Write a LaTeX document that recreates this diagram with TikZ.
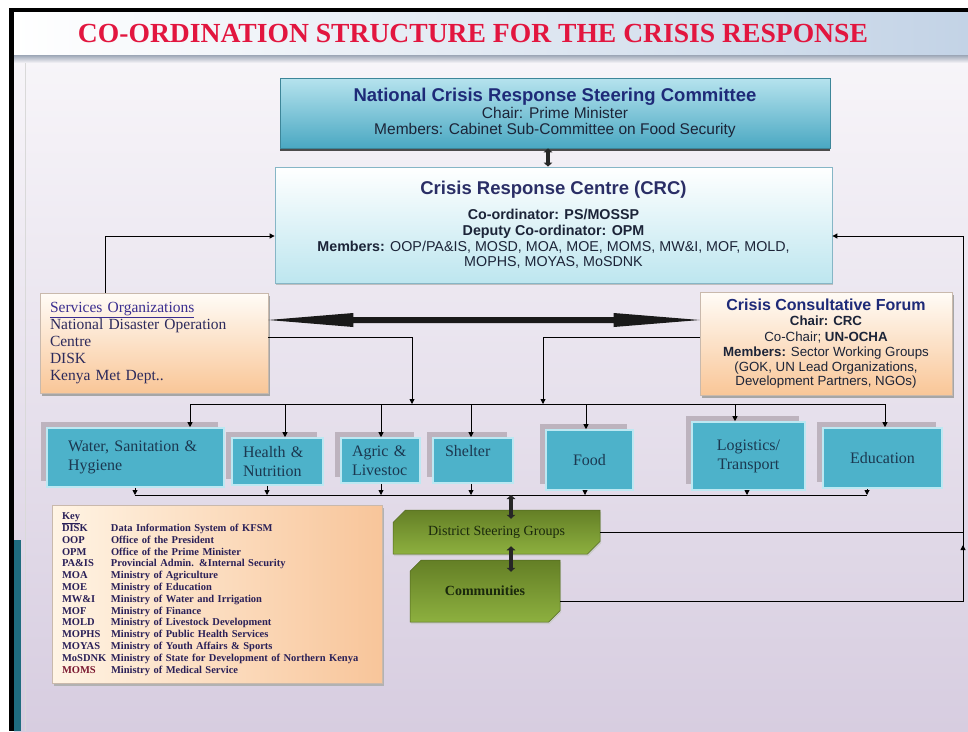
\documentclass[tikz,border=0pt]{standalone}
\usepackage{fontspec}
\setmainfont{Liberation Serif}
\setsansfont{Liberation Sans}
\usetikzlibrary{arrows.meta,shapes.misc,shadows,calc}
\definecolor{titlered}{HTML}{E2163F}
\definecolor{navy}{HTML}{1E2A78}
\definecolor{crcnavy}{HTML}{2A2E66}
\definecolor{darktxt}{HTML}{1C2438}
\definecolor{bgtop}{HTML}{F7F5F9}
\definecolor{bgbot}{HTML}{D7CDE0}
\definecolor{bannerR}{HTML}{C3D3E6}
\definecolor{bannerline}{HTML}{9CA6B6}
\definecolor{tealstrip}{HTML}{1F6C7E}
\definecolor{ncA}{HTML}{B6E3EE}
\definecolor{ncB}{HTML}{4AA8C2}
\definecolor{ncedge}{HTML}{3D8699}
\definecolor{crcB}{HTML}{BDE6EF}
\definecolor{crcedge}{HTML}{86B6C6}
\definecolor{peachA}{HTML}{FFFCF7}
\definecolor{peachB}{HTML}{F9C697}
\definecolor{peachedge}{HTML}{C9B9AC}
\definecolor{svctitle}{HTML}{3A2E90}
\definecolor{svctext}{HTML}{2C2A5C}
\definecolor{boxteal}{HTML}{4DB2CA}
\definecolor{boxedge}{HTML}{BDE8F2}
\definecolor{shadowc}{HTML}{BDB3BE}
\definecolor{sectortext}{HTML}{1B3850}
\definecolor{greenD}{HTML}{647F26}
\definecolor{greenL}{HTML}{8DB03F}
\definecolor{greentext}{HTML}{1A280C}
\definecolor{keyA}{HTML}{FFF4E4}
\definecolor{keyB}{HTML}{F8C59A}
\definecolor{keytext}{HTML}{2A2058}
\definecolor{keyred}{HTML}{7A1830}
\newcommand\keyabbr[1]{\makebox[49pt][l]{#1}}
\begin{document}
\begin{tikzpicture}[x=1pt,y=-1pt,
  line/.style={draw=black,line width=0.9pt},
  arr/.style={line,-{Triangle[length=5pt,width=5pt]}},
  bigdbl/.style={draw=black!85,line width=3.2pt,{Triangle[length=4pt,width=8.5pt]}-{Triangle[length=4pt,width=8.5pt]}},
  ncbox/.style={top color=ncA,bottom color=ncB,draw=ncedge,line width=0.6pt,align=center,
    font=\sffamily\fontsize{15.5}{16.5}\selectfont,text=darktxt,
    general shadow={shadow xshift=0pt,shadow yshift=-3pt,fill=black!70}},
  crcbox/.style={top color=white,bottom color=crcB,draw=crcedge,line width=0.8pt,align=center,text=darktxt,
    font=\sffamily\fontsize{14.3}{15.8}\selectfont,
    general shadow={shadow xshift=1pt,shadow yshift=-2pt,fill=black!25}},
  peach/.style={top color=peachA,bottom color=peachB,draw=peachedge,line width=0.6pt,
    general shadow={shadow xshift=1.5pt,shadow yshift=-2.5pt,fill=black!35}},
  sector/.style={fill=boxteal,draw=boxedge,line width=1.6pt,font=\fontsize{16}{19}\selectfont,text=sectortext,inner sep=0pt,
    general shadow={shadow xshift=-6pt,shadow yshift=6pt,fill=shadowc}},
  greenbox/.style={chamfered rectangle,chamfered rectangle corners={north west,south east},chamfered rectangle xsep=10pt,
    top color=greenD,bottom color=greenL,draw=greenD!80!black,line width=0.5pt,text=greentext,
    general shadow={shadow xshift=1pt,shadow yshift=-2pt,fill=black!20}},
  keybox/.style={left color=keyA,right color=keyB,draw=peachedge,line width=0.6pt,
    general shadow={shadow xshift=1.5pt,shadow yshift=-2.5pt,fill=black!30}}
]
\useasboundingbox (0,0) rectangle (968,731);
% background and frame
\fill[white] (0,0) rectangle (968,731);
\shade[top color=bgtop,bottom color=bgbot] (14,58) rectangle (968,731);
\shade[left color=white,right color=bannerR] (14,12) rectangle (968,56);
\shade[top color=bannerline,bottom color=bgtop] (14,55) rectangle (968,63);
\fill[black] (9,8) rectangle (968,12);
\fill[black] (9,8) rectangle (14,731);
\fill[tealstrip] (14,540) rectangle (21,731);
\draw[black!15] (25,63) -- (25,731);

\node[text=titlered,inner sep=0pt] (title) at (473,33) {\resizebox{790pt}{!}{\bfseries CO-ORDINATION STRUCTURE FOR THE CRISIS RESPONSE}};

% top committee
\node[ncbox,minimum width=550pt,minimum height=70pt] (ncrsc) at (555,113)
 {{\fontsize{18.5}{19}\selectfont\bfseries\color{navy}National Crisis Response Steering Committee}\\[0.5pt]
  Chair: Prime Minister\\
  Members: Cabinet Sub-Committee on Food Security};

\node[crcbox,minimum width=557pt,minimum height=116pt] (crc) at (553.5,225)
 {{\fontsize{18.5}{19}\selectfont\bfseries\color{crcnavy}Crisis Response Centre (CRC)}\\[9pt]
  {\bfseries Co-ordinator: PS/MOSSP}\\
  {\bfseries Deputy Co-ordinator: OPM}\\
  {\bfseries Members:} OOP/PA\&IS, MOSD, MOA, MOE, MOMS, MW\&I, MOF, MOLD,\\
  MOPHS, MOYAS, MoSDNK};

\node[peach,minimum width=228pt,minimum height=100pt,text width=208pt,inner xsep=10pt,align=left,
  font=\fontsize{15.5}{17}\selectfont,text=svctext] (svc) at (154,343)
 {{\color{svctitle}\underline{Services Organizations}}\\ National Disaster Operation\\ Centre\\ DISK\\ Kenya Met Dept..};

\node[peach,minimum width=252pt,minimum height=103pt,align=center,
  font=\sffamily\fontsize{13.3}{14.5}\selectfont,text=darktxt] (ccf) at (826,343.5)
 {{\fontsize{16}{17}\selectfont\bfseries\color{navy}Crisis Consultative Forum}\\[1pt]
  \textbf{Chair: CRC}\\[1pt]
  Co-Chair; \textbf{UN-OCHA}\\[1pt]
  \textbf{Members:} Sector Working Groups\\
  (GOK, UN Lead Organizations,\\
  Development Partners, NGOs)};

% sector boxes
\node[sector,minimum width=177pt,minimum height=59pt,text width=135pt,align=left] (wat) at (135.5,457.5) {Water, Sanitation \&\\Hygiene};
\node[sector,minimum width=91pt,minimum height=47pt,text width=69pt,align=left] (hea) at (277.5,461.5) {Health \&\\Nutrition};
\node[sector,minimum width=79pt,minimum height=45pt,text width=57pt,align=left] (agr) at (380.5,460.5) {Agric \&\\Livestoc};
\node[sector,minimum width=80pt,minimum height=45pt,text width=56pt,align=left] (she) at (473,460.5) {Shelter\\ \mbox{}};
\node[sector,minimum width=87pt,minimum height=60pt,align=center] (foo) at (589.5,460) {Food};
\node[sector,minimum width=113pt,minimum height=68pt,align=center] (log) at (748.5,456) {Logistics/\\Transport};
\node[sector,minimum width=119pt,minimum height=60pt,align=center] (edu) at (882.5,458) {Education};

% district / communities
\node[greenbox,minimum width=207pt,minimum height=44pt,font=\fontsize{14}{16}\selectfont] (dsg) at (496.5,532) {District Steering Groups};
\node[greenbox,minimum width=150pt,minimum height=62pt,font=\bfseries\fontsize{14}{16}\selectfont] (comm) at (485,591) {Communities};

% key
\node[keybox,minimum width=330pt,minimum height=178pt,text width=310pt,inner xsep=10pt,align=left,
  font=\bfseries\fontsize{10.5}{11.8}\selectfont,text=keytext] (key) at (217,594)
 {\underline{Key}\\
  \keyabbr{DISK}Data Information System of KFSM\\
  \keyabbr{OOP}Office of the President\\
  \keyabbr{OPM}Office of the Prime Minister\\
  \keyabbr{PA\&IS}Provincial Admin. \&Internal Security\\
  \keyabbr{MOA}Ministry of Agriculture\\
  \keyabbr{MOE}Ministry of Education\\
  \keyabbr{MW\&I}Ministry of Water and Irrigation\\
  \keyabbr{MOF}Ministry of Finance\\
  \keyabbr{MOLD}Ministry of Livestock Development\\
  \keyabbr{MOPHS}Ministry of Public Health Services\\
  \keyabbr{MOYAS}Ministry of Youth Affairs \& Sports\\
  \keyabbr{MoSDNK}Ministry of State for Development of Northern Kenya\\
  \keyabbr{\color{keyred}MOMS}Ministry of Medical Service};

% coordinates
\coordinate (jl) at (412,404);
\coordinate (jr) at (543,404);
\coordinate (d1) at (190,404);
\coordinate (d2) at (285,404);
\coordinate (d3) at (381,404);
\coordinate (d4) at (471,404);
\coordinate (d5) at (586,404);
\coordinate (d6) at (735,404);
\coordinate (d7) at (885,404);
\coordinate (u1) at (135,495);
\coordinate (u2) at (267,495);
\coordinate (u3) at (381,495);
\coordinate (u4) at (471,495);
\coordinate (u5) at (585,495);
\coordinate (u6) at (747,495);
\coordinate (u7) at (867,495);
\coordinate (dj) at (511,495);
\coordinate (rb) at (963,601);
\coordinate (rt) at (963,236);

% connectors
\draw[bigdbl] ([xshift=-7pt]ncrsc.south) -- ([xshift=-7pt]ncrsc.south |- crc.north);
\draw[arr] ([xshift=-49pt]svc.north) |- ([yshift=-11pt]crc.west);
\draw[line] ([yshift=-10pt]comm.east) -- (rb) -- (rt);
\draw[arr] (rt) -- (rt -| crc.east);
\draw[line] (dsg.east) -- (dsg.east -| rb);
\draw[arr] (rb) -- ++(0,-56);

\path ([yshift=23pt]svc.east) coordinate (bl);
\path ([yshift=23.5pt]ccf.west) coordinate (br);
\fill[black!90] (bl) -- ++(85,-7) -- ++(0,4) -- ($(br)+(-86,-3)$) -- ++(0,-4) -- (br)
  -- ++(-86,7) -- ++(0,-4) -- ($(bl)+(85,3)$) -- ++(0,4) -- cycle;

\draw[arr] ([yshift=6pt]svc.east) -| (jl);
\draw[arr] ([yshift=6.5pt]ccf.west) -| (jr);
\draw[line] (d1) -- (d7);
\draw[arr] (d1) -- (d1 |- wat.north);
\draw[arr] (d2) -- (d2 |- hea.north);
\draw[arr] (d3) -- (d3 |- agr.north);
\draw[arr] (d4) -- (d4 |- she.north);
\draw[arr] (d5) -- (d5 |- foo.north);
\draw[arr] (d6) -- (d6 |- log.north);
\draw[arr] (d7) -- (d7 |- edu.north);

\draw[line] (u1) -- (u7);
\draw[arr] (u1 |- wat.south) -- (u1);
\draw[arr] (u2 |- hea.south) -- (u2);
\draw[arr] (u3 |- agr.south) -- (u3);
\draw[arr] (u4 |- she.south) -- (u4);
\draw[arr] (u5 |- foo.south) -- (u5);
\draw[arr] (u6 |- log.south) -- (u6);
\draw[arr] (u7 |- edu.south) -- (u7);

\draw[bigdbl] (dj) -- ([yshift=-9pt]dj |- dsg.north);
\draw[bigdbl] ([yshift=8pt]dj |- dsg.south) -- ([yshift=-12pt]dj |- comm.north);
\end{tikzpicture}
\end{document}
